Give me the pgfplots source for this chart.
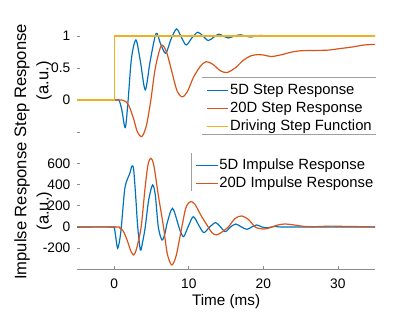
\documentclass[border=0pt]{standalone}
\usepackage{fontspec}
\setmainfont{Liberation Sans}
\usepackage{pgfplots}
\pgfplotsset{compat=1.18}
\definecolor{mblue}{rgb}{0,0.447,0.741}
\definecolor{morange}{rgb}{0.85,0.325,0.098}
\definecolor{myellow}{rgb}{0.929,0.694,0.125}
\definecolor{axgray}{gray}{0.55}
\pgfplotsset{
  myaxis/.style={
    scale only axis, width=201.1pt,
    xmin=-5, xmax=35,
    axis x line*=bottom, axis y line*=left,
    axis line style={-, axgray, line width=0.5pt},
    y axis line style={draw=none},
    tick align=inside,
    major tick length=2.2pt,
    tick style={axgray, line width=0.5pt},
    /pgf/number format/assume math mode=true,
    ticklabel style={font=\fontsize{9.3}{11}\selectfont},
    yticklabel style={anchor=east, xshift=-1pt},
    ylabel style={at={(axis description cs:-0.147,0.5)}, anchor=center, rotate=0, align=center, font=\fontsize{11.2}{15}\selectfont},
    every axis plot/.append style={line width=0.8pt},
    legend cell align=left,
    legend style={draw=none, fill=none, inner sep=0pt, font=\fontsize{10}{12}\selectfont,
      nodes={inner sep=0.75pt, text height=8pt, text depth=2.6pt}, row sep=0pt},
    legend image code/.code={\draw[#1, line width=0.8pt] (0pt,0pt) -- (14.5pt,0pt);},
    clip=false,
  }
}
\begin{document}
\begin{tikzpicture}
\path[use as bounding box] (0,0) rectangle (280pt,210.5pt);
% top axis
\begin{axis}[myaxis, at={(52pt,117.1pt)}, anchor=south west, height=77.7pt,
  ymin=-0.6, ymax=1.2,
  x axis line style={draw=none}, xtick=\empty,
  ytick={-0.5,0,0.5,1}, yticklabels={{},0,0.5,1},
  ylabel={Step Response\\(a.u.)},
  legend style={at={(axis cs:12.3,0.29)}, anchor=north west},
]
\addplot[mblue, smooth] coordinates {
(-5,0) (0,0) (0.6,0) (1.0,-0.15) (1.47,-0.43) (1.85,0) (2.3,0.65) (2.9,0.94) (3.5,0.6) (4.15,0.16) (4.8,0.6) (5.6,1.04) (6.2,0.88) (6.9,0.73) (7.6,0.95) (8.35,1.11) (9.0,0.98) (9.65,0.86) (10.4,0.97) (11.2,1.06) (11.9,1.0) (12.6,0.93) (13.3,0.98) (14.0,1.03) (14.65,1.0) (15.3,0.97) (16.1,1.0) (16.9,1.02) (17.6,1.0) (18.3,0.985) (19.0,1.0) (19.7,1.01) (20.5,1.0) (21.3,1.0) (28,1.0) (35,1.0)};
\addlegendentry{5D Step Response}
\addplot[morange, smooth] coordinates {
(-5,0) (0,0) (1.0,0) (1.5,-0.02) (2.0,-0.1) (2.6,-0.3) (3.1,-0.5) (3.7,-0.57) (4.3,-0.4) (4.9,0.0) (5.5,0.5) (6.3,0.85) (7.0,0.75) (7.7,0.45) (8.4,0.15) (9.1,0.05) (9.8,0.13) (10.6,0.35) (11.5,0.52) (12.3,0.6) (13.2,0.56) (14.2,0.46) (15.1,0.43) (16.2,0.5) (17.3,0.62) (18.3,0.69) (19.3,0.71) (20.2,0.70) (21.1,0.68) (22.5,0.71) (23.8,0.75) (25,0.77) (27,0.775) (28.7,0.78) (30,0.80) (32,0.83) (33.5,0.86) (35,0.87)};
\addlegendentry{20D Step Response}
\addplot[myellow] coordinates {(-5,0) (0,0) (0,1) (35,1)};
\addlegendentry{Driving Step Function}
\draw[gray!75, line width=0.5pt] (axis cs:11.8,0.36) -- (axis cs:35.1,0.36);
\draw[gray!75, line width=0.5pt] (axis cs:11.8,-0.53) -- (axis cs:35.1,-0.53);
\end{axis}
% bottom axis
\begin{axis}[myaxis, at={(52pt,28.75pt)}, anchor=south west, height=78.7pt,
  ymin=-400, ymax=700,
  xtick={0,10,20,30},
  xticklabel style={anchor=center, yshift=-9.9pt},
  ytick={-400,-200,0,200,400,600}, yticklabels={{},-200,0,200,400,600},
  ylabel={Impulse Response\\(a.u.)},
  xlabel={Time (ms)},
  xlabel style={at={(axis description cs:0.5,0)}, anchor=center, yshift=-22pt, font=\fontsize{10.3}{12}\selectfont},
  legend style={at={(axis cs:10.85,669)}, anchor=north west},
]
\addplot[mblue, smooth] coordinates {
(-5,0) (-0.3,0) (0,-10) (0.2,-100) (0.44,-201) (0.7,-130) (0.94,0) (1.38,349) (1.75,450) (2.05,500) (2.37,575) (2.6,537) (2.9,255) (3.14,0) (3.5,-217) (3.8,-140) (4.15,0) (4.6,250) (5.13,396) (5.5,300) (5.9,0) (6.4,-123) (6.8,-60) (7.1,40) (7.8,176) (8.5,40) (8.8,-30) (9.3,-91) (9.95,10) (10.6,97) (11.3,20) (12.0,-53) (12.8,0) (13.6,41) (14.25,0) (14.9,-44) (15.6,0) (16.3,28) (17.05,0) (17.8,-22) (18.45,0) (19.1,19) (19.8,0) (20.5,-8) (21.5,5) (22.5,0) (28,0) (35,0)};
\addlegendentry{5D Impulse Response}
\addplot[morange, smooth] coordinates {
(-5,0) (0.3,0) (0.7,-8) (1.2,-40) (1.7,-120) (2.2,-225) (2.6,-264) (3.0,-200) (3.6,0) (4.1,350) (4.5,580) (4.9,648) (5.3,580) (5.9,300) (6.6,0) (7.1,-250) (7.7,-358) (8.3,-270) (9.06,0) (9.6,180) (10.2,239) (10.8,215) (11.7,100) (12.6,0) (13.1,-55) (13.7,-75) (14.4,-50) (15.3,0) (16.2,80) (17.1,104) (18.0,70) (18.9,0) (19.5,-15) (20.2,-19) (21.0,-5) (21.9,18) (22.9,28) (24,20) (25.5,5) (27,3) (29,8) (31,5) (33,3) (35,0)};
\addlegendentry{20D Impulse Response}
\draw[gray!75, line width=0.5pt] (axis cs:10.3,698) -- (axis cs:10.3,340);
\end{axis}
\end{tikzpicture}
\end{document}
